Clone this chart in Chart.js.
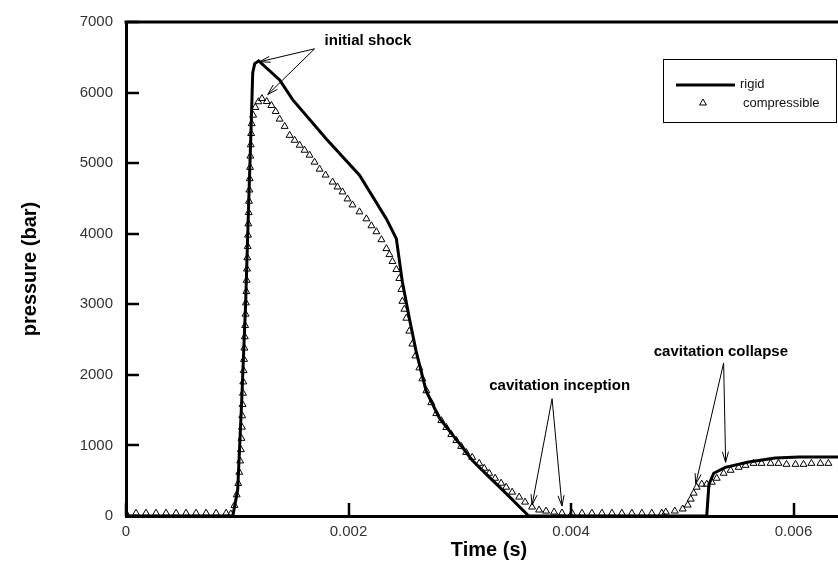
<!DOCTYPE html>
<html>
<head>
<meta charset="utf-8">
<script src="https://cdn.jsdelivr.net/npm/chart.js"></script>
<style>
  html, body { margin: 0; padding: 0; background: #fff; }
  .chart-wrapper { width: 838px; height: 565px; }
</style>
</head>
<body>
<div class="chart-wrapper"><canvas id="pressureChart" width="838" height="565"></canvas></div>
<script>
// series names
const seriesNames = ["rigid", "compressible"];

// rigid pipe: time (s) / pressure (bar)
const rigidTime = [0, 0.00096, 0.001004, 0.00104, 0.001076, 0.001103, 0.001126, 0.001139, 0.001157, 0.001193,
  0.001381, 0.001498, 0.001803, 0.002099, 0.002341, 0.00243, 0.002484, 0.002547, 0.002607, 0.002697,
  0.002816, 0.002996, 0.003112, 0.003265, 0.003414, 0.00362, 0.00522, 0.00524, 0.005283, 0.005387,
  0.005596, 0.005836, 0.00605, 0.0064];
const rigidPressure = [0, 0, 370, 1630, 3040, 4450, 5580, 6280, 6410, 6450,
  6180, 5900, 5340, 4830, 4210, 3930, 3320, 2800, 2340, 1775,
  1390, 1030, 790, 550, 325, 0, 0, 450, 606, 690,
  765, 821, 835, 835];

// compressible pipe: time (s) / pressure (bar)
const compTime = [0, 0.00009, 0.00018, 0.00027, 0.00036, 0.00045, 0.00054, 0.00063, 0.00072, 0.00081, 0.0009,
  0.000942, 0.000975, 0.000995, 0.001009, 0.001018, 0.001026, 0.001033, 0.001038, 0.001042, 0.001045,
  0.001048, 0.001051, 0.001054, 0.001057, 0.001061, 0.001064, 0.001068, 0.001071, 0.001075, 0.001078,
  0.001082, 0.001085, 0.001088, 0.001091, 0.001094, 0.001097, 0.0011, 0.001103, 0.001106, 0.001109,
  0.001112, 0.001115, 0.001118, 0.001121, 0.001125, 0.00113, 0.001143, 0.001163, 0.00119, 0.001222,
  0.001265, 0.001307, 0.001345, 0.001381, 0.001426, 0.001471, 0.001516, 0.001561, 0.001605, 0.00165,
  0.001695, 0.00174, 0.001794, 0.001857, 0.001901, 0.001946, 0.001991, 0.002036, 0.002099, 0.002161,
  0.002206, 0.002251, 0.002296, 0.002341, 0.002368, 0.002395, 0.00243, 0.002457, 0.002475, 0.002484,
  0.002502, 0.00252, 0.002547, 0.002574, 0.002601, 0.002637, 0.002664, 0.0027, 0.002744, 0.002789,
  0.002834, 0.002879, 0.002924, 0.002969, 0.003013, 0.003058, 0.003112, 0.003175, 0.00322, 0.003265,
  0.003318, 0.003372, 0.003417, 0.003471, 0.003534, 0.003587, 0.00365, 0.003713, 0.003776, 0.003848,
  0.003919, 0.004009, 0.004099, 0.004188, 0.004278, 0.004368, 0.004457, 0.004547, 0.004637, 0.004726,
  0.004816, 0.004852, 0.004933, 0.005004, 0.005049, 0.005076, 0.005103, 0.00513, 0.005175, 0.00522,
  0.005265, 0.00531, 0.005372, 0.005435, 0.005507, 0.005569, 0.005641, 0.005713, 0.005794, 0.005865,
  0.005937, 0.006018, 0.00609, 0.006161, 0.006242, 0.006314];
const compPressure = [40, 40, 40, 40, 40, 40, 40, 40, 40, 40, 40,
  30, 150, 300, 460, 620, 780, 940, 1100, 1260, 1420,
  1580, 1740, 1900, 2060, 2220, 2380, 2540, 2700, 2860, 3020,
  3180, 3340, 3500, 3660, 3820, 3980, 4140, 4300, 4460, 4620,
  4780, 4940, 5100, 5260, 5420, 5560, 5680, 5790, 5870, 5915,
  5873, 5817, 5732, 5624, 5521, 5394, 5324, 5254, 5183, 5113,
  5014, 4915, 4831, 4732, 4662, 4592, 4493, 4408, 4310, 4211,
  4113, 4028, 3915, 3789, 3704, 3606, 3493, 3366, 3211, 3042,
  2930, 2803, 2620, 2437, 2268, 2099, 1944, 1775, 1606, 1451,
  1352, 1254, 1155, 1070, 986, 901, 831, 746, 676, 606,
  535, 465, 408, 338, 268, 197, 127, 85, 70, 56,
  42, 40, 40, 40, 40, 40, 40, 40, 40, 40,
  40, 56, 70, 99, 155, 239, 324, 408, 451, 451,
  479, 535, 606, 648, 690, 718, 746, 746, 746, 746,
  732, 732, 732, 746, 746, 746];

// axis ticks
const timeTicks = [0, 0.002, 0.004, 0.006];
const timeTickLabels = ["0", "0.002", "0.004", "0.006"];
const pressureTicks = [0, 1000, 2000, 3000, 4000, 5000, 6000, 7000];
const pressureTickLabels = ["0", "1000", "2000", "3000", "4000", "5000", "6000", "7000"];

// callouts, anchored in data units (time, pressure)
const callouts = [
  { text: "initial shock", at: [0.001785, 6732],
    arrows: [[0.001695, 6620, 0.001202, 6437], [0.001695, 6620, 0.001274, 5972]] },
  { text: "cavitation inception", at: [0.003265, 1845],
    arrows: [[0.00383, 1662, 0.00365, 155], [0.00383, 1662, 0.003919, 141]] },
  { text: "cavitation collapse", at: [0.004744, 2324],
    arrows: [[0.005372, 2169, 0.005121, 451], [0.005372, 2169, 0.00539, 761]] },
];

const toPoints = (xs, ys) => xs.map((t, i) => ({ x: t, y: ys[i] }));

function arrow(ctx, x0, y0, x1, y1) {
  const ang = Math.atan2(y1 - y0, x1 - x0);
  const len = 11, spread = 0.28;
  ctx.beginPath();
  ctx.moveTo(x0, y0);
  ctx.lineTo(x1, y1);
  ctx.moveTo(x1 - len * Math.cos(ang - spread), y1 - len * Math.sin(ang - spread));
  ctx.lineTo(x1, y1);
  ctx.lineTo(x1 - len * Math.cos(ang + spread), y1 - len * Math.sin(ang + spread));
  ctx.stroke();
}

const overlayPlugin = {
  id: "overlay",
  afterDraw(chart) {
    const { ctx, chartArea, scales: { x, y } } = chart;
    ctx.save();

    // frame top + inward tick marks
    ctx.strokeStyle = "#000";
    ctx.lineWidth = 3;
    ctx.beginPath();
    ctx.moveTo(chartArea.left - 1.5, chartArea.top);
    ctx.lineTo(chartArea.right, chartArea.top);
    ctx.stroke();

    ctx.lineWidth = 2.5;
    pressureTicks.forEach((v) => {
      const py = Math.round(y.getPixelForValue(v));
      ctx.beginPath();
      ctx.moveTo(chartArea.left, py);
      ctx.lineTo(chartArea.left + 13, py);
      ctx.stroke();
    });
    timeTicks.forEach((v) => {
      const px = Math.round(x.getPixelForValue(v));
      ctx.beginPath();
      ctx.moveTo(px, chartArea.bottom);
      ctx.lineTo(px, chartArea.bottom - 13);
      ctx.stroke();
    });

    // x axis title (plot frame runs past the right edge, so centre on the full frame)
    ctx.fillStyle = "#000";
    ctx.font = "bold 20px 'Liberation Sans', Arial, sans-serif";
    ctx.textAlign = "center";
    ctx.textBaseline = "middle";
    ctx.fillText("Time (s)", chartArea.left + 363, 550);

    // callouts
    ctx.lineWidth = 1;
    ctx.font = "bold 15px 'Liberation Sans', Arial, sans-serif";
    ctx.textAlign = "left";
    callouts.forEach((c) => {
      ctx.fillText(c.text, x.getPixelForValue(c.at[0]), y.getPixelForValue(c.at[1]));
      c.arrows.forEach((a) => {
        arrow(ctx, x.getPixelForValue(a[0]), y.getPixelForValue(a[1]),
          x.getPixelForValue(a[2]), y.getPixelForValue(a[3]));
      });
    });

    // legend box
    const lx = chartArea.right - 175, ly = chartArea.top + 37;
    ctx.lineWidth = 1;
    ctx.strokeRect(lx + 0.5, ly + 0.5, 173, 63);
    ctx.lineWidth = 3;
    ctx.beginPath();
    ctx.moveTo(lx + 13, ly + 26);
    ctx.lineTo(lx + 72, ly + 26);
    ctx.stroke();
    ctx.lineWidth = 1;
    ctx.fillStyle = "#fff";
    Chart.helpers.drawPoint(ctx, { pointStyle: "triangle", radius: 4, borderWidth: 1, rotation: 0 },
      lx + 40, ly + 44);
    ctx.font = "13px 'Liberation Sans', Arial, sans-serif";
    ctx.fillStyle = "#111";
    ctx.fillText(seriesNames[0], lx + 77, ly + 25);
    ctx.fillText(seriesNames[1], lx + 80, ly + 44);

    ctx.restore();
  },
};

const ctx = document.getElementById("pressureChart").getContext("2d");
new Chart(ctx, {
  type: "scatter",
  data: {
    datasets: [
      {
        label: seriesNames[0],
        data: toPoints(rigidTime, rigidPressure),
        showLine: true,
        borderColor: "#000",
        borderWidth: 3,
        pointRadius: 0,
        tension: 0,
      },
      {
        label: seriesNames[1],
        data: toPoints(compTime, compPressure),
        showLine: false,
        pointStyle: "triangle",
        pointRadius: 4,
        borderWidth: 1,
        borderColor: "#000",
        backgroundColor: "rgba(255,255,255,0)",
      },
    ],
  },
  options: {
    responsive: false,
    animation: false,
    layout: { autoPadding: false, padding: { top: 19, right: 0, left: 0, bottom: 0 } },
    plugins: {
      legend: { display: false },
      tooltip: { enabled: false },
    },
    scales: {
      x: {
        type: "linear",
        min: 0,
        max: 0.0064,
        afterBuildTicks: (scale) => { scale.ticks = timeTicks.map((v) => ({ value: v })); },
        afterFit: (scale) => {
          scale.height = 49;
          scale.paddingLeft = 0;
          scale.paddingRight = 0;
        },
        grid: { display: false, drawTicks: false },
        border: { display: true, color: "#000", width: 3 },
        ticks: {
          autoSkip: false,
          maxRotation: 0,
          padding: 7,
          color: "#333",
          font: { family: "'Liberation Sans', Arial, sans-serif", size: 15 },
          callback: (v, i) => timeTickLabels[i],
        },
      },
      y: {
        min: 0,
        max: 7000,
        afterBuildTicks: (scale) => { scale.ticks = pressureTicks.map((v) => ({ value: v })); },
        afterFit: (scale) => { scale.width = 126; },
        grid: { display: false, drawTicks: false },
        border: { display: true, color: "#000", width: 3 },
        ticks: {
          autoSkip: false,
          padding: 13,
          color: "#333",
          font: { family: "'Liberation Sans', Arial, sans-serif", size: 15 },
          callback: (v, i) => pressureTickLabels[i],
        },
        title: {
          display: true,
          text: "pressure (bar)",
          color: "#000",
          padding: { top: 18, bottom: 0 },
          font: { family: "'Liberation Sans', Arial, sans-serif", size: 20, weight: "bold" },
        },
      },
    },
  },
  plugins: [overlayPlugin],
});
</script>
</body>
</html>
